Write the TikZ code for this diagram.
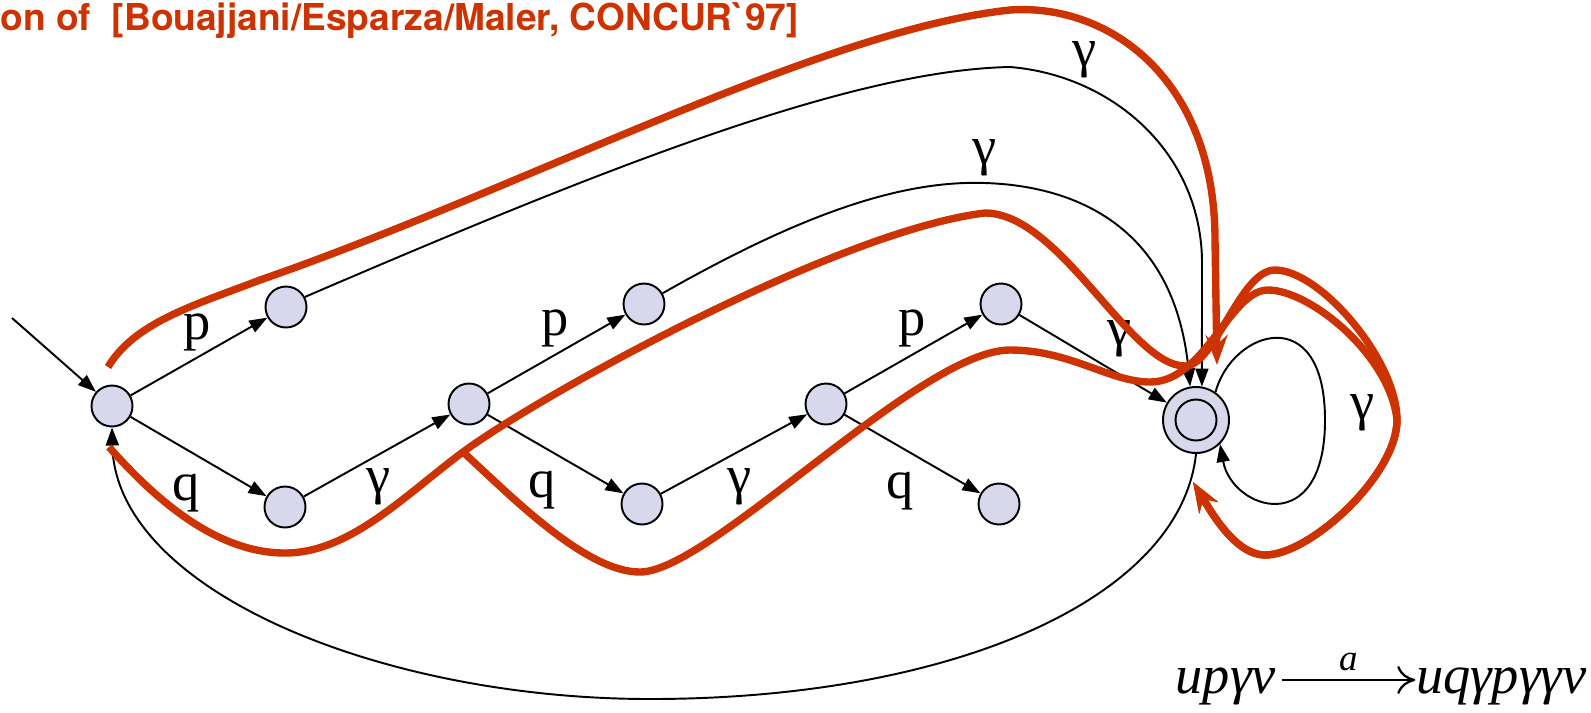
\documentclass[tikz,border=0pt]{standalone}
\usepackage{fontspec}
\setmainfont{Liberation Serif}
\newfontfamily\headfont{TeX Gyre Heros}
\usetikzlibrary{arrows.meta}
\definecolor{cNode}{HTML}{D7D8EB}
\definecolor{cRun}{HTML}{CC3300}
\definecolor{cInk}{HTML}{000000}
\tikzset{
  st/.style ={circle,draw=cInk,fill=cNode,line width=0.55pt,minimum size=4.1mm,inner sep=0pt},
  fst/.style={st,minimum size=6.6mm},
  ar/.style ={-{Triangle[length=1.8mm,width=1.3mm]},line width=0.55pt,cInk},
  runpath/.style={-{Stealth[length=3mm,width=2.2mm,inset=1mm]},line width=2.1pt,cRun},
  lbl/.style={font=\fontsize{15.5}{18}\selectfont,inner sep=0pt},
}

\begin{document}
\begin{tikzpicture}[
   ttl/.style={font=\headfont\bfseries\fontsize{10.55}{12}\selectfont,text=cRun,inner sep=0pt,anchor=base west},
   fml/.style={font=\fontsize{15.5}{18}\selectfont\itshape,inner sep=0pt},
   rw/.style={-{Computer Modern Rightarrow[length=1.8mm,width=2.8mm]},line width=0.65pt}]
\useasboundingbox (0,0) rectangle (15.91,-7.12);
% states
\node[st]  (n0) at (1.12,-4.06)  {};
\node[st]  (p1) at (2.86,-3.07)  {};
\node[st]  (q1) at (2.85,-5.07)  {};
\node[st]  (n2) at (4.69,-4.04)  {};
\node[st]  (p2) at (6.44,-3.04)  {};
\node[st]  (q2) at (6.42,-5.04)  {};
\node[st]  (n3) at (8.26,-4.04)  {};
\node[st]  (p3) at (10.01,-3.04) {};
\node[st]  (q3) at (9.99,-5.04)  {};
\node[fst] (f)  at (11.96,-4.20) {};
\draw[line width=0.55pt] (f.center) circle (2.05mm);
\coordinate (init) at (0.12,-3.18);
% transitions
\draw[ar] (init)--(n0);
\draw[ar] (n0)--(p1);
\draw[ar] (n0)--(q1);
\draw[ar] (q1)--(n2);
\draw[ar] (n2)--(p2);
\draw[ar] (n2)--(q2);
\draw[ar] (q2)--(n3);
\draw[ar] (n3)--(p3);
\draw[ar] (n3)--(q3);
\draw[ar] (p3)--(f);
\draw[ar] (p1.28) .. controls (6.00,-1.70) and (8.50,-0.70) .. (10.10,-0.67)
          .. controls (11.10,-0.75) and (12.00,-1.50) .. (12.02,-2.60) -- (f.80);
\draw[ar] (p2.30) .. controls (8.00,-2.15) and (9.00,-1.80) .. (9.85,-1.83)
          .. controls (10.80,-1.86) and (11.75,-2.30) .. (f.100);
\draw[ar] (f.55) .. controls (12.32,-3.30) and (13.25,-3.00) .. (13.25,-4.20)
          .. controls (13.25,-5.40) and (12.32,-5.10) .. (f.-45);
\draw[ar] (f.-90) .. controls (11.80,-6.00) and (9.50,-6.99) .. (6.50,-6.99)
          .. controls (3.80,-6.99) and (1.15,-5.90) .. (n0.-90);
% labels
\node[lbl] (lp1) at (1.97,-3.32)  {p};
\node[lbl] (lq1) at (1.86,-4.93)  {q};
\node[lbl] (lg1) at (3.79,-4.87)  {γ};
\node[lbl] (lp2) at (5.55,-3.28)  {p};
\node[lbl] (lq2) at (5.42,-4.90)  {q};
\node[lbl] (lg2) at (7.40,-4.87)  {γ};
\node[lbl] (lp3) at (9.12,-3.28)  {p};
\node[lbl] (lq3) at (9.00,-4.91)  {q};
\node[lbl] (lg3) at (11.20,-3.39) {γ};
\node[lbl] (lgt) at (10.85,-0.60) {γ};
\node[lbl] (lgm) at (9.85,-1.58)  {γ};
\node[lbl] (lgl) at (13.63,-4.13) {γ};
% runs
\coordinate (a0)  at (1.08,-3.67);
\coordinate (b0)  at (1.09,-4.47);
\coordinate (c0)  at (4.63,-4.52);
\coordinate (aT)  at (12.17,-3.65);
\coordinate (bcT) at (11.93,-4.82);
\draw[runpath] (a0) .. controls (1.35,-3.22) and (1.95,-3.05) .. (2.60,-2.80)
   .. controls (5.20,-1.90) and (8.20,-0.30) .. (10.10,-0.10)
   .. controls (11.10,-0.03) and (12.15,-0.80) .. (12.15,-2.40) -- (aT);
\draw[runpath] (b0) .. controls (1.60,-5.05) and (2.20,-5.53) .. (2.85,-5.53)
   .. controls (3.50,-5.53) and (4.05,-4.95) .. (c0)
   .. controls (5.40,-3.95) and (8.40,-2.30) .. (9.85,-2.13)
   .. controls (10.60,-2.13) and (11.30,-3.66) .. (11.85,-3.66)
   .. controls (12.15,-3.66) and (12.40,-2.70) .. (12.75,-2.70)
   .. controls (13.20,-2.70) and (13.97,-3.60) .. (13.97,-4.20)
   .. controls (13.97,-4.75) and (13.10,-5.55) .. (12.65,-5.55)
   .. controls (12.35,-5.55) and (12.10,-5.10) .. (bcT);
\draw[runpath] (c0) .. controls (5.10,-4.95) and (5.85,-5.72) .. (6.40,-5.72)
   .. controls (7.10,-5.72) and (9.20,-3.50) .. (10.10,-3.50)
   .. controls (10.70,-3.50) and (11.10,-3.82) .. (11.50,-3.82)
   .. controls (12.05,-3.82) and (12.30,-2.90) .. (12.68,-2.90)
   .. controls (13.10,-2.90) and (13.90,-3.55) .. (13.97,-4.20)
   .. controls (13.97,-4.75) and (13.10,-5.55) .. (12.65,-5.55)
   .. controls (12.35,-5.55) and (12.10,-5.10) .. (bcT);
% title and rewrite rule
\node[ttl] (ttl) at (0,-0.30) {on of\ \ [Bouajjani/Esparza/Maler, CONCUR\textasciigrave 97]};
\node[fml,anchor=base west] (lhs) at (11.75,-6.93) {upγv};
\node[fml,anchor=base east] (rhs) at (15.87,-6.93) {uqγpγγv};
\draw[rw] ([xshift=0.5mm,yshift=0.6mm]lhs.east) -- node[above=0.8mm,inner sep=0pt,font=\fontsize{10.5}{12}\selectfont\itshape] (la) {a} ([yshift=0.6mm]rhs.west);
\end{tikzpicture}
\end{document}
